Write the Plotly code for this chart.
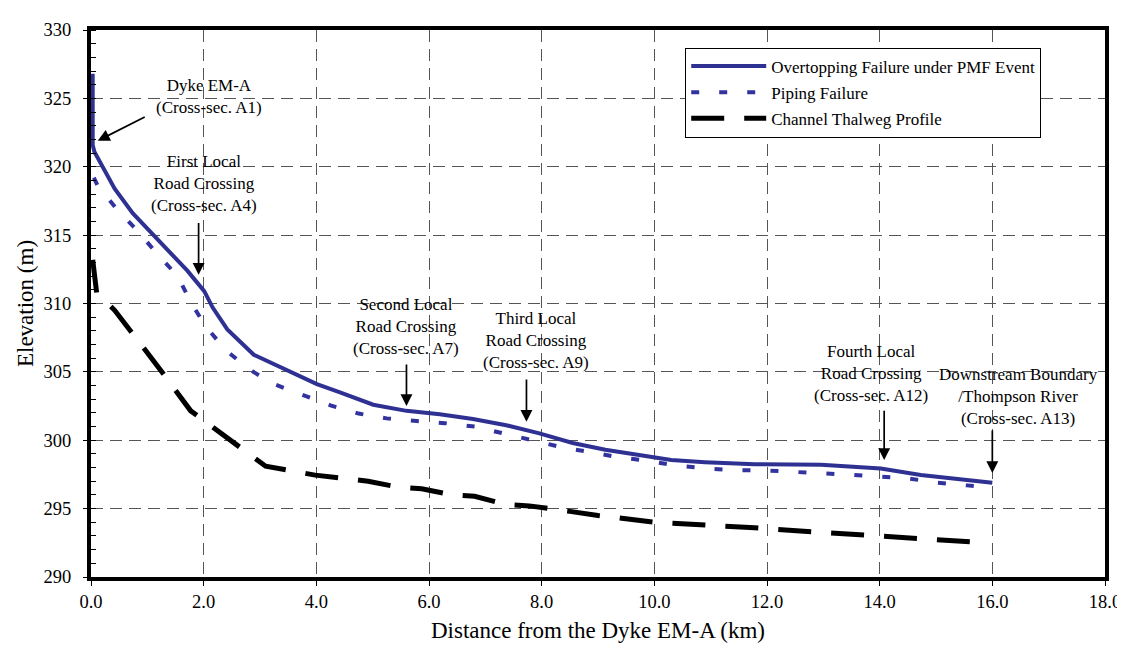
import plotly.graph_objects as go

# ---- data ----
over_x = [0.03, 0.03, 0.06, 0.42, 0.74, 0.95, 1.36, 1.71, 1.83, 2.01, 2.16, 2.42, 2.89, 3.42,
          4.01, 4.42, 5.01, 5.60, 6.19, 6.78, 7.37, 7.96, 8.55, 9.13, 9.72, 10.30, 10.90,
          11.78, 12.96, 14.02, 14.73, 16.00]
over_y = [326.8, 321.6, 321.1, 318.4, 316.6, 315.7, 314.0, 312.4, 311.8, 310.9, 309.7, 308.1,
          306.25, 305.2, 304.1, 303.5, 302.6, 302.15, 301.9, 301.55, 301.1, 300.5, 299.8,
          299.3, 298.9, 298.55, 298.4, 298.25, 298.2, 297.94, 297.46, 296.9]

pipe_x = [0.05, 0.12, 0.48, 0.83, 1.18, 1.54, 1.77, 2.04, 2.39, 2.80, 3.25, 3.75, 4.25, 4.75,
          5.25, 5.78, 6.28, 6.81, 7.31, 7.84, 8.34, 8.84, 9.37, 9.87, 10.40, 10.90, 11.43,
          11.96, 12.46, 12.99, 13.49, 14.01, 14.52, 15.02, 15.55, 15.80]
pipe_y = [319.2, 318.6, 316.8, 315.3, 313.6, 312.0, 310.1, 308.3, 306.6, 305.2, 304.1, 303.3,
          302.55, 301.95, 301.6, 301.4, 301.25, 301.0, 300.5, 300.0, 299.5, 299.15, 298.75,
          298.5, 298.15, 297.95, 297.8, 297.8, 297.7, 297.6, 297.5, 297.35, 297.2, 296.9,
          296.7, 296.6]

thal_x = [0.03, 0.10, 0.42, 0.77, 1.00, 1.33, 1.57, 1.77, 1.95, 2.27, 2.74, 3.10, 3.98, 4.54,
          4.92, 5.48, 5.87, 6.43, 6.81, 7.37, 7.78, 8.50, 9.00, 10.00, 11.00, 11.78, 12.46,
          13.05, 13.40, 13.99, 14.35, 14.94, 15.30, 15.90]
thal_y = [313.2, 310.8, 309.5, 307.7, 306.4, 304.6, 303.2, 302.15, 301.6, 300.6, 299.15, 298.1,
          297.45, 297.2, 297.0, 296.55, 296.45, 296.0, 295.9, 295.3, 295.2, 294.8, 294.5,
          294.0, 293.8, 293.6, 293.4, 293.25, 293.2, 293.0, 292.95, 292.75, 292.7, 292.5]

series_names = ["Overtopping Failure under PMF Event", "Piping Failure", "Channel Thalweg Profile"]

x_ticks = [0, 2, 4, 6, 8, 10, 12, 14, 16, 18]
x_tick_labels = ["0.0", "2.0", "4.0", "6.0", "8.0", "10.0", "12.0", "14.0", "16.0", "18.0"]
y_ticks = [290, 295, 300, 305, 310, 315, 320, 325, 330]

# annotation labels: text, arrow head (x, y), arrow tail (x, y), text centre (x, y)
labels = [
    "Dyke EM-A<br>(Cross-sec. A1)",
    "First Local<br>Road Crossing<br>(Cross-sec. A4)",
    "Second Local<br>Road Crossing<br>(Cross-sec. A7)",
    "Third Local<br>Road Crossing<br>(Cross-sec. A9)",
    "Fourth Local<br>Road Crossing<br>(Cross-sec. A12)",
    "Downstream Boundary<br>/Thompson River<br>(Cross-sec. A13)",
]
arrow_head = [(0.12, 321.9), (1.91, 312.1), (5.60, 302.5), (7.73, 301.35), (14.08, 298.55), (16.0, 297.6)]
arrow_tail = [(0.98, 323.7), (1.91, 316.0), (5.60, 305.65), (7.73, 304.55), (14.08, 302.27), (16.0, 300.83)]
text_pos = [(2.10, 325.13), (2.01, 318.76), (5.60, 308.29), (7.90, 307.26), (13.85, 304.87), (16.47, 303.19)]

FONT = "Liberation Serif"
BLUE = "rgb(46,49,146)"

fig = go.Figure()
fig.add_trace(go.Scatter(x=over_x, y=over_y, mode="lines", name=series_names[0], legendgroup="a",
                         line=dict(color=BLUE, width=4)))
fig.add_trace(go.Scatter(x=pipe_x, y=pipe_y, mode="lines", name=series_names[1], legendgroup="b",
                         line=dict(color="rgb(51,51,160)", width=4, dash="8px,20px")))
fig.add_trace(go.Scatter(x=thal_x, y=thal_y, mode="lines", name=series_names[2], legendgroup="c",
                         line=dict(color="black", width=5, dash="33px,20px")))

annotations = []
for txt, (hx, hy), (tx, ty), (cx, cy) in zip(labels, arrow_head, arrow_tail, text_pos):
    annotations.append(dict(x=hx, y=hy, ax=tx, ay=ty, xref="x", yref="y", axref="x", ayref="y",
                            text="", showarrow=True, arrowhead=2, arrowsize=1.4, arrowwidth=1.7,
                            arrowcolor="black", standoff=0, startstandoff=0))
    annotations.append(dict(x=cx, y=cy, xref="x", yref="y", text=txt, showarrow=False,
                            align="center", font=dict(family=FONT, size=17, color="black")))

fig.update_layout(
    width=1125, height=648,
    margin=dict(l=83, r=23, t=16, b=79),
    paper_bgcolor="white", plot_bgcolor="white",
    font=dict(family=FONT, size=18.5, color="black"),
    showlegend=True,
    legend=dict(x=0.586, y=0.968, xanchor="left", yanchor="top",
                bgcolor="white", bordercolor="black", borderwidth=1,
                font=dict(family=FONT, size=17, color="black"),
                tracegroupgap=1, entrywidth=387, itemwidth=75),
    annotations=annotations,
)
fig.update_xaxes(range=[0, 18], tickvals=x_ticks, ticktext=x_tick_labels,
                 showline=True, linecolor="black", linewidth=4, mirror=True,
                 ticks="outside", ticklen=5, tickwidth=1, tickcolor="black",
                 showgrid=True, gridcolor="#555555", gridwidth=1.2, griddash="12px,7px",
                 zeroline=False,
                 title=dict(text="Distance from the Dyke EM-A (km)",
                            font=dict(family=FONT, size=23), standoff=12))
fig.update_yaxes(range=[290, 330], tickvals=y_ticks,
                 showline=True, linecolor="black", linewidth=4, mirror=True,
                 ticks="outside", ticklen=4, tickwidth=1, tickcolor="black",
                 ticklabelstandoff=8,
                 minor=dict(ticks="inside", dtick=1, ticklen=5, tickcolor="black", tickwidth=1,
                            showgrid=False),
                 showgrid=True, gridcolor="#555555", gridwidth=1.2, griddash="12px,7px",
                 zeroline=False,
                 title=dict(text="Elevation (m)", font=dict(family=FONT, size=23), standoff=4))

fig.write_html("out.html")
